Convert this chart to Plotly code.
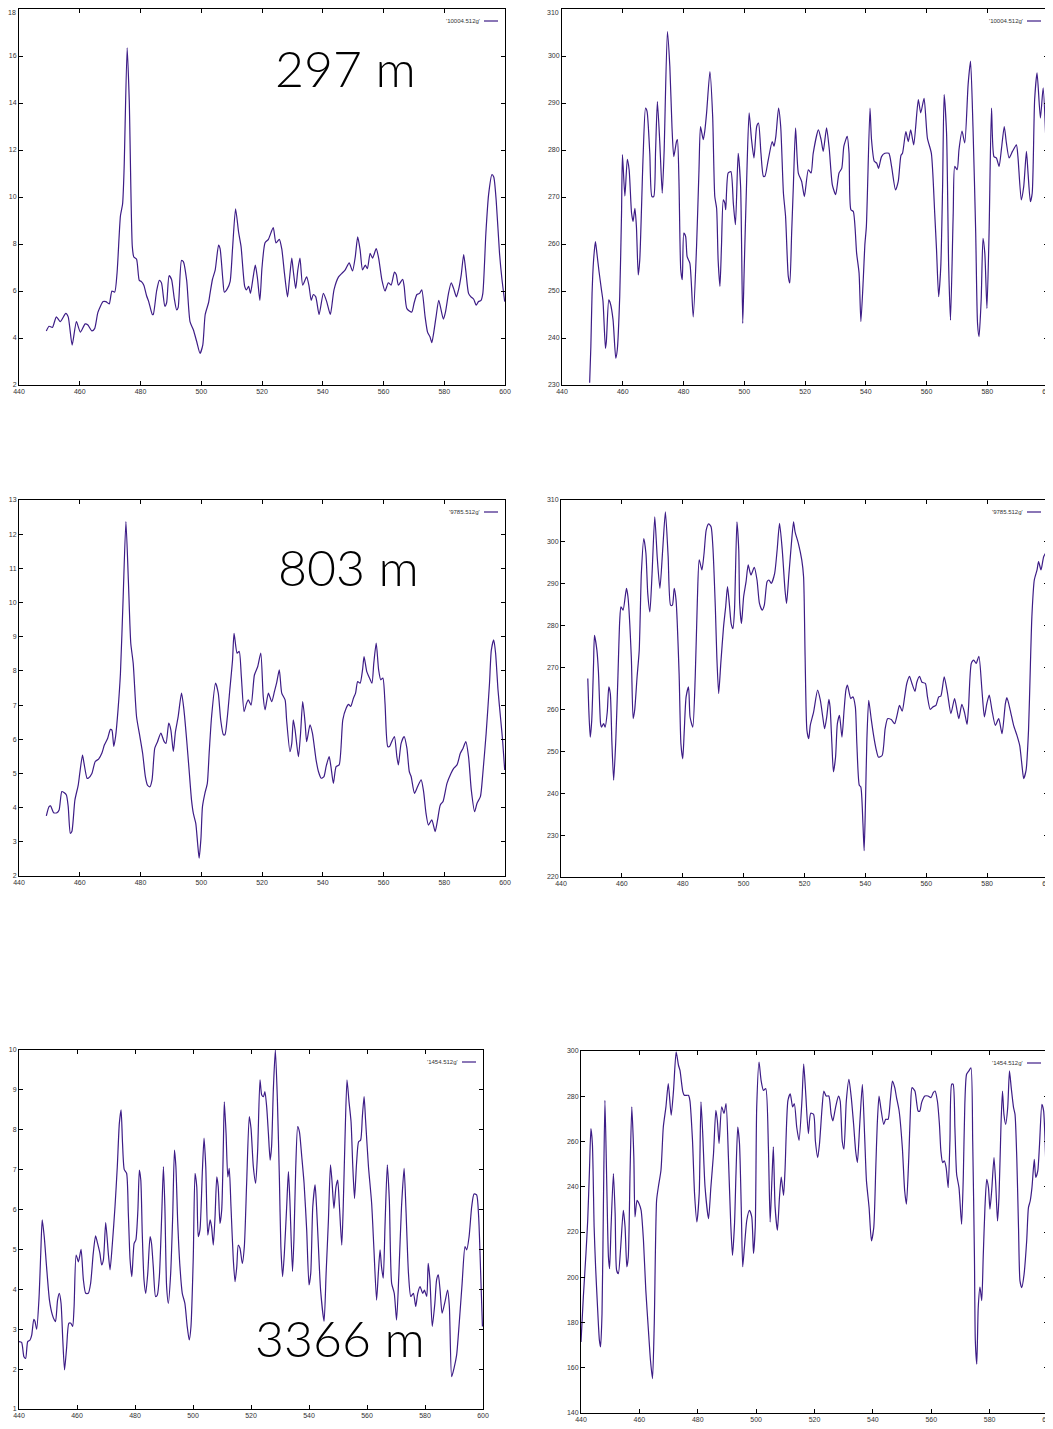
import plotly.graph_objects as go

W, H = 1053, 1429

# ---------------- data (wavelength, intensity) ----------------
spec_297_a = [(449,4.3),(449.9,4.5),(451,4.45),(452.3,4.9),(453.6,4.7),(455.4,5.05),(456.2,4.9),(457.5,3.7),
 (458.9,4.7),(460.2,4.25),(461.8,4.6),(462.7,4.55),(464,4.3),(464.9,4.4),(466,5.1),(467.7,5.55),(468.6,5.55),
 (469.7,5.45),(470.6,6.0),(471.5,5.95),(472.3,6.8),(473.4,9.2),(474.1,9.7),(474.6,11.2),(475.6,16.35),(476.3,14.1),
 (477.3,7.9),(477.8,7.45),(478.7,7.35),(479.6,6.45),(480.3,6.4),(481.1,6.25),(482,5.8),(482.7,5.55),(483.9,5.0),
 (484.2,5.0),(485.3,6.0),(486.2,6.45),(486.9,6.35),(488,5.35),(488.6,5.5),(489.4,6.65),(490.2,6.5),(491.1,5.7),
 (491.9,5.2),(492.4,5.3),(493.5,7.3),(494.1,7.25),(495.2,6.45),(496.3,4.7),(497.4,4.35),(498.5,3.85),(499.6,3.35),
 (500.5,3.7),(501.3,5.0),(502.4,5.5),(502.9,5.9),(503.7,6.5),(504.6,6.9),(505.7,7.95),(506.2,7.8),(507.1,6.5),
 (507.6,5.95),(508.6,6.1),(509.5,6.4),(510.3,7.8),(511.3,9.5),(512.3,8.5),(513.1,7.9),(514.3,6.2),(514.9,6.05),
 (515.6,6.2),(516.2,5.9),(517.1,6.6),(517.8,7.1),(518.5,6.55),(519.3,5.6),(520,7.0),(521,8.05),(522.1,8.2),
 (523.7,8.7),(524.6,8.05),(525.7,8.2),(526.5,7.8),(527.4,6.75),(528.4,5.75),(529,6.45),(529.8,7.4),(530.3,6.85),
 (531.1,6.1),(531.8,6.9),(532.5,7.4),(533.4,6.25),(534.7,6.6),(535.5,6.2),(536.2,5.6),(536.9,5.85),(537.7,5.75),
 (538.8,5.0),(540.2,5.9),(541.3,5.55),(542.5,5.0),(543.7,6.05),(545.2,6.6),(546.3,6.75),(547.4,6.9),(548.7,7.2),
 (549.8,6.85),(550.7,7.45),(551.5,8.3),(552.3,7.75),(553.1,6.9),(554,7.1),(554.7,6.95),(555.6,7.6),(556.4,7.4),
 (557.6,7.8),(558.4,7.4),(559.5,6.45),(560.5,6.0),(561.6,6.35),(562.5,6.25),(563.6,6.8),(564.2,6.7),(564.9,6.25),
 (566.3,6.5),(566.8,6.2),(567.7,5.25),(569.3,5.1),(570.1,5.5),(571,5.85),(571.9,5.9),(572.6,6.05),(573.7,4.9),
 (574.5,4.25),(575.3,4.05),(575.9,3.8),(576.5,4.2),(577.3,4.9),(578.2,5.6),(579.7,4.8),(580.4,5.1),(581.4,5.9),
 (582.3,6.35),(583.1,6.1),(584,5.75),(584.7,6.05),(585.6,6.7),(586.4,7.55),(587.1,6.85),(588,5.9),(588.8,5.75),
 (589.7,5.65),(590.5,5.4),(591.3,5.55),(592.1,5.6),(592.7,5.9),(593.7,8.45),(594.6,10.1),(595.7,10.95),
 (596.3,10.85),(597.1,9.85),(598.2,7.6),(599,6.5),(599.9,5.55)]

spec_297_b = [(449.1,230.5),(449.5,238.2),(449.9,249.5),(450.4,256.6),(451,260.5),(451.5,258),(452.2,254.1),
 (453,250.2),(453.5,247.8),(454.3,237.8),(454.6,239.2),(455.4,248.1),(455.9,247.4),(456.8,243.9),(457.7,235.7),
 (458.2,237.5),(459,248.8),(459.6,266.6),(459.9,279),(460.7,270.2),(461.5,278),(462.1,275.8),(462.9,266.6),
 (463.4,264.8),(464,267.6),(464.5,263.7),(465.1,253.4),(465.6,256.6),(466.7,278.6),(467.5,288.9),(468,288.2),
 (468.9,279.3),(469.6,270.1),(470.2,270.1),(470.8,279.7),(471.4,290.3),(472.2,281.5),(473,270.8),(473.6,279.3),
 (474.7,305.2),(475.5,297.8),(476.2,285),(476.8,278.6),(477.7,281.8),(478,282.2),(478.5,273.7),(479.1,254.5),
 (479.6,252.4),(480.1,262.3),(480.7,261.6),(481.2,257.3),(482.1,255.9),(483.2,244.5),(484.3,259.5),(485.1,275.8),
 (485.6,285),(486.5,282.2),(487,284),(487.6,287.9),(488.7,296.7),(489.6,287.2),(490.3,270.1),(490.9,267.6),
 (491.4,256.6),(492,251),(492.5,259.5),(493.1,269.4),(493.6,268.7),(493.9,267.3),(494.7,275.1),(495.6,275.4),
 (496.4,268.7),(497.1,264.1),(498,279.3),(498.8,272.2),(499.5,243.1),(500,255.1),(500.8,273.7),(501.6,287.9),
 (502.4,282.2),(503.2,278.3),(504.1,285),(504.7,285.7),(505.5,279.3),(506.3,274.4),(506.8,274.4),(507.9,277.9),
 (509.2,281.8),(509.8,280.8),(510.4,282.9),(511.3,288.9),(512,285),(512.9,270.8),(513.6,265.9),(514.5,253.1),
 (515,251.7),(515.6,262.3),(516.2,273),(516.9,284.7),(517.8,275.1),(518.9,273.3),(519.8,270.1),(521.1,275.8),
 (522,275.1),(522.7,279.3),(524.4,284.3),(525.3,282.2),(526,279.7),(527.1,284.7),(528,280.1),(529,272.6),
 (530.1,270.5),(531.2,275.1),(532.1,276.1),(532.8,280.8),(533.9,282.9),(534.5,279.3),(535.1,267.3),(535.9,266.9),
 (537,258),(537.8,253.8),(538.4,243.5),(539.2,252.7),(539.7,259.8),(540.2,263.7),(541.4,288.9),(541.9,282.2),
 (542.8,277.6),(543.6,277.2),(544.2,276.1),(545.2,278.6),(546.3,279.3),(547.6,279.3),(548.5,276.5),(549.8,271.5),
 (550.7,273.3),(551.6,278.9),(552.1,279.3),(553.2,283.9),(554,281.8),(554.8,284.3),(555.8,281.1),(557.3,290.7),
 (558.1,287.9),(559.2,291),(560.3,282.5),(561.6,279.3),(562.7,266.6),(563.3,258.8),(564,248.8),(564.7,255.2),
 (565.3,272.2),(565.8,291.8),(566.6,283.6),(567.3,255.2),(567.9,243.8),(568.8,266.6),(569.3,276.5),(570.1,275.8),
 (570.7,280.1),(571.7,284),(572.6,281.5),(573.7,293.9),(574.5,298.9),(575.3,285),(576.2,262.3),(576.8,243.1),
 (577.3,240.3),(578,248.1),(578.6,261.2),(579.2,258),(579.9,246.3),(580.6,262.3),(581.4,288.9),(582.2,278.6),
 (583,278.3),(583.9,276.5),(584.7,280.4),(585.6,285),(586.3,281.5),(587.2,278.3),(588.3,279.7),(589.6,281.1),
 (590.1,278.6),(591.2,269.4),(592,272.2),(592.9,279.7),(593.4,275.4),(594.2,269),(594.8,270.8),(595.6,290.7),
 (596.4,296.4),(597.5,286.8),(598.4,293.2),(599.2,283.6),(599.8,270.1)]

spec_803_a = [(449,3.76),(449.9,4.03),(450.4,4.05),(451.4,3.85),(452.5,3.85),(453.2,3.93),(454.1,4.47),
 (454.8,4.44),(455.6,4.37),(456.2,4.03),(456.9,3.25),(457.4,3.3),(458.4,4.22),(459.5,4.66),(460,5.0),(460.9,5.54),
 (461.4,5.3),(462.4,4.86),(462.8,4.86),(464,5.0),(465.1,5.35),(466.2,5.42),(467.3,5.6),(468.1,5.83),(469.2,6.03),
 (470.1,6.29),(470.6,6.27),(471.2,5.79),(471.8,6.08),(472.6,6.86),(473.4,7.93),(474.3,10.18),(475.2,12.37),
 (476,10.66),(476.8,8.81),(477.6,8.22),(478.7,6.66),(479.8,6.08),(480.7,5.59),(481.6,4.91),(482.3,4.66),
 (483.1,4.61),(483.8,4.81),(484.7,5.74),(485.6,5.93),(486.7,6.18),(487.8,5.93),(488.4,5.88),(489.3,6.47),(490,6.27),
 (490.8,5.64),(491.5,6.22),(492.4,6.66),(493.5,7.35),(494.3,6.86),(495.2,5.98),(496,5.1),(496.8,4.22),(497.4,3.83),
 (498.2,3.54),(498.8,2.96),(499.3,2.52),(499.9,3.1),(500.4,4.03),(501.2,4.42),(502,4.71),(502.6,5.59),(503.4,6.66),
 (504.7,7.64),(505.6,7.35),(506.4,6.57),(507.3,6.13),(507.8,6.13),(508.6,6.66),(509.4,7.44),(510.3,8.32),(510.8,9.1),
 (511.8,8.52),(512.5,8.57),(513.2,7.83),(514.1,6.81),(514.9,7.05),(515.5,7.15),(516.4,7.0),(517.5,7.88),(518.6,8.13),
 (519.6,8.52),(520.4,7.25),(521,6.86),(522.1,7.35),(523.2,7.1),(524.1,7.4),(524.8,7.64),(525.7,8.03),(526.5,7.35),
 (527.6,7.15),(528.1,6.57),(529.2,5.64),(529.8,5.88),(530.3,6.57),(530.9,6.27),(532,5.49),(532.7,6.18),(533.4,7.1),
 (534.2,6.47),(534.7,5.93),(535.8,6.42),(536.6,6.18),(537.8,5.4),(538.6,5.05),(539.5,4.86),(540.4,4.91),(541.1,5.2),
 (542.1,5.49),(542.7,5.2),(543.5,4.71),(544.4,5.2),(545.4,5.25),(546.6,6.57),(547.7,6.91),(548.5,7.02),(549.2,6.96),
 (550.1,7.2),(550.8,7.35),(551.5,7.69),(552.3,7.64),(553.1,8.03),(553.6,8.42),(554.5,7.98),(555.4,7.79),(556.2,7.64),
 (556.8,8.22),(557.6,8.81),(558.4,8.03),(559.1,7.74),(559.8,7.79),(560.5,7.05),(561.4,5.79),(562,5.79),(562.7,5.93),
 (563.6,6.08),(564.4,5.49),(564.9,5.25),(565.8,5.88),(566.8,6.08),(567.7,5.74),(568.5,5.05),(569.1,4.91),(570.2,4.42),
 (571.2,4.61),(572.4,4.81),(573.2,4.47),(574,3.83),(574.8,3.49),(575.9,3.64),(577,3.3),(577.8,3.64),(578.7,4.08),
 (579.6,4.18),(580.9,4.71),(582.2,5.0),(583.1,5.15),(584.2,5.25),(585.3,5.59),(586.2,5.74),(587.1,5.93),(588,5.49),
 (588.9,4.52),(590,3.88),(590.8,4.13),(591.9,4.32),(592.7,5.0),(593.8,6.18),(594.9,7.64),(595.5,8.61),(596.3,8.91),
 (596.9,8.52),(597.7,7.44),(598.5,6.66),(599.2,5.98),(599.9,5.1)]

spec_803_b = [(448.8,267.4),(449.1,260.6),(449.6,253.4),(450.1,257.4),(450.7,271),(451,277.7),(451.8,274.1),
 (452.3,269),(453,256.6),(453.3,255.8),(454,256.6),(454.5,255.8),(455.2,259.4),(455.7,265.4),(456.2,263.8),
 (456.7,252.6),(457.3,243.1),(458,252.6),(458.7,267.8),(459.3,281.3),(459.7,284.5),(460.4,283.7),(461.5,288.9),
 (462,286.9),(463.1,272.5),(463.7,257.8),(464.2,259.8),(465,267.8),(465.7,274.1),(466.4,292.5),(467.2,300.8),
 (467.9,297.3),(468.5,287.7),(469.2,283.3),(469.9,292.1),(470.8,306),(471.6,296.5),(472.5,288.9),(473.4,298),
 (474.3,307.2),(475.2,296.5),(476,284.9),(476.6,284.9),(477.2,288.9),(477.8,286.1),(478.8,268.6),(479.4,251.8),
 (480,248.2),(480.5,255),(481.1,263),(481.9,265.4),(482.4,258.2),(483.3,255.8),(484.1,267.8),(484.8,286.1),
 (485.4,295.7),(486.3,293.3),(487,297.3),(487.7,302.8),(488.5,304.3),(489.3,303.6),(489.9,298.8),(490.7,284.5),
 (491.2,272.5),(491.8,263.8),(492.5,271),(493.4,279.7),(494.1,284.5),(494.7,289.3),(495.4,284.5),(495.9,280.5),
 (496.5,279.3),(497,283.7),(497.8,304.8),(498.4,298),(498.7,285.3),(499.3,280.5),(500,286.9),(500.8,290.5),
 (501.5,294.5),(502.4,292.1),(503.5,293.9),(504.4,290.9),(505.2,285.3),(506.1,283.7),(506.8,284.9),(507.7,290.5),
 (508.3,290.9),(509.1,290.1),(510.2,292.5),(511,298),(511.8,304.4),(512.7,298),(513.6,288.5),(514.1,285.3),
 (514.9,292.5),(515.7,299.6),(516.4,304.8),(516.9,302.4),(518,299.6),(519.1,295.7),(519.7,291.6),(520.2,272.5),
 (520.8,255),(521.4,253),(521.9,256.2),(523,259.4),(524.3,264.6),(525.2,262.2),(526,258.2),(526.6,255.4),
 (527.3,258.2),(528,262.4),(528.4,260.6),(529,251.8),(529.5,245.1),(530.2,248.6),(530.8,256.6),(531.5,258.6),
 (532.3,253.4),(533,259.8),(533.6,264.6),(534.1,265.8),(535.2,262.6),(535.9,263),(536.7,260.6),(537.2,251.8),
 (538,241.9),(538.5,241.5),(539.2,232.7),(539.6,226.3),(540,236.7),(540.5,253),(541.1,262.2),(541.9,257.8),
 (542.7,253.8),(543.5,250.6),(544.3,248.6),(545.5,249),(546.5,255.4),(547.3,257.8),(548.5,257.6),(549.6,256.6),
 (550.4,258.6),(551.2,261),(552.1,259.6),(552.9,263),(553.6,266.2),(554.5,267.9),(555.3,266.2),(556.3,264.3),
 (556.9,266.5),(557.8,267.9),(558.6,266.5),(559.7,266.2),(560.4,263),(561.3,260),(562.2,260.6),(563.2,261),
 (564.1,263),(564.8,263.2),(565.9,267.8),(567,263.8),(568.1,259),(569.3,262.6),(570.1,259.8),(570.7,257.8),
 (571.7,261.2),(572.6,259.2),(573.4,256.4),(573.9,260.6),(574.8,271),(575.6,271.8),(576.4,271),(577.3,272.7),
 (578.3,264.6),(579.1,258.2),(579.9,261.4),(580.7,263.4),(581.6,259.8),(582.7,256.2),(583.8,257.8),(584.9,254.2),
 (586,261.4),(586.5,262.8),(587.6,259.8),(588.7,256.2),(589.8,253.8),(590.7,251.4),(591.5,246.3),(592,243.5),
 (592.8,245.5),(593.6,255),(594.2,270.2),(594.7,282.1),(595.5,290.9),(596.4,293.3),(596.9,295.3),(597.7,293.3),
 (598.6,296.5),(599.5,297.5),(599.9,297.5)]

spec_3366_a = [(440,2.69),(440.9,2.67),(441.7,2.31),(442.3,2.27),(443,2.69),(443.8,2.73),(444.4,2.86),(445.1,3.25),
 (445.5,3.2),(446.1,3.0),(446.9,3.78),(447.5,4.9),(448,5.74),(448.7,5.32),(449.5,4.57),(450.5,3.73),(451.5,3.36),
 (452.2,3.23),(452.6,3.19),(453.3,3.73),(453.9,3.9),(454.5,3.65),(455.1,2.73),(455.7,1.98),(456.4,2.52),(457.2,3.15),
 (457.9,3.15),(458.5,3.07),(459,3.57),(459.7,4.86),(460.5,4.69),(461.4,5.0),(462.2,4.24),(463,3.9),(463.9,3.9),
 (464.7,4.15),(465.6,4.9),(466.4,5.34),(467.1,5.15),(467.9,4.9),(468.5,4.61),(469.1,4.74),(469.9,5.67),(470.8,4.9),
 (471.4,4.49),(472.2,5.15),(473.1,6.07),(473.9,7.08),(474.6,8.16),(475.2,8.5),(475.7,7.66),(476.3,7.0),(477.1,6.91),
 (477.7,5.91),(478.3,4.74),(478.9,4.32),(479.7,5.15),(480.3,5.24),(481,5.99),(481.5,6.99),(482,6.74),(482.5,5.41),
 (483.1,4.24),(483.7,3.9),(484.4,4.4),(485.2,5.32),(485.7,5.15),(486.3,4.57),(487.1,3.82),(487.7,3.86),(488.4,4.32),
 (489.2,5.83),(489.8,7.08),(490.3,6.07),(490.9,4.07),(491.5,3.65),(492.3,4.4),(493,5.83),(493.6,7.49),(494.1,7.08),
 (494.7,5.74),(495.5,4.57),(496.3,3.9),(497.2,3.65),(498,3.07),(498.7,2.73),(499.3,3.07),(500.1,4.82),(500.7,6.91),
 (501.3,6.57),(501.8,5.32),(502.4,5.49),(503.2,6.91),(503.8,7.79),(504.4,7.08),(505.1,5.36),(505.9,5.74),(506.4,5.57),
 (507,5.11),(507.6,5.82),(508.2,6.82),(508.7,6.57),(509.3,5.65),(509.9,5.99),(510.5,7.74),(510.8,8.7),(511.4,7.91),
 (512,6.82),(512.5,7.03),(513.1,6.07),(513.9,4.74),(514.5,4.19),(515.1,4.57),(515.6,5.11),(516.2,5.03),(517,4.65),
 (517.7,5.07),(518.5,6.66),(519.4,8.33),(520,8.04),(520.8,7.08),(521.6,6.66),(522.3,7.49),(523.1,9.25),(523.7,8.87),
 (524.3,8.83),(524.8,8.96),(525.4,8.58),(526,7.91),(526.6,7.24),(527.1,7.58),(527.7,9.0),(528.4,10.0),(529.1,8.75),
 (529.8,6.74),(530.3,5.07),(530.9,4.32),(531.5,4.9),(532.3,6.07),(532.9,6.95),(533.4,6.24),(534.3,4.45),(534.8,5.24),
 (535.4,6.99),(536.1,8.08),(536.7,7.95),(537.5,7.33),(538.3,6.66),(539.2,5.49),(540,4.11),(540.6,4.4),(541.3,6.07),
 (542.1,6.62),(542.6,6.07),(543.2,5.15),(544,3.98),(545.2,3.2),(545.9,4.4),(546.7,5.74),(547.4,7.12),(547.9,6.74),
 (548.6,6.03),(549.3,6.57),(549.9,6.74),(550.5,6.07),(551.3,5.11),(551.8,6.07),(552.4,7.74),(553.1,9.25),(553.8,8.7),
 (554.5,8.2),(555.1,7.08),(555.7,6.28),(556.4,7.16),(557.1,7.7),(557.8,7.74),(558.4,8.33),(559,8.83),(559.5,8.25),
 (560.5,7.08),(561.6,6.16),(562.4,4.99),(563.3,3.73),(563.9,4.4),(564.5,4.99),(565,4.57),(565.6,4.28),(566.2,5.57),
 (567,7.12),(567.7,6.24),(568.5,4.15),(569.4,3.9),(570.2,3.23),(571,4.4),(571.9,6.07),(572.8,7.03),(573.4,6.07),
 (574.3,4.4),(575.1,3.82),(576,3.9),(576.8,3.57),(577.5,3.9),(578.3,4.07),(579.2,3.9),(579.8,3.98),(580.6,3.82),
 (581.1,4.65),(581.7,4.24),(582.5,3.07),(583.4,3.65),(584,4.24),(584.6,4.36),(585.2,3.98),(585.9,3.4),(586.9,3.69),
 (587.8,3.98),(588.4,3.57),(589.2,1.81),(590,2.02),(590.9,2.35),(591.8,3.15),(592.8,4.15),(593.8,5.07),(594.4,4.99),
 (595.2,5.32),(596.1,6.07),(596.9,6.39),(597.8,6.37),(598.5,5.82),(599.2,4.4),(599.8,3.07)]

spec_3366_b = [(440,171.4),(440.8,191.3),(441.7,210.5),(442.3,225.2),(442.9,247.3),(443.4,265.7),(443.9,259.1),
 (444.5,222.2),(445,204.6),(445.6,188.4),(446.3,172.2),(446.7,169.2),(447.2,184),(447.7,234.1),(448.2,278.2),
 (448.8,242.9),(449.4,209),(449.8,203.8),(450.3,222.2),(451.1,245.8),(451.7,228.1),(452.2,203.1),(452.8,201.6),
 (453.6,213.4),(454.5,229.6),(455.1,222.2),(455.7,204.6),(456.2,209),(456.8,245.8),(457.4,275.3),(458.1,253.2),
 (458.5,226.7),(459.2,234),(459.9,232.5),(460.6,229.6),(461.4,216.3),(462.2,194.3),(463.1,176.6),(463.8,163.3),
 (464.5,155.2),(465.1,179.5),(465.9,234),(466.5,239.9),(467.4,247.3),(468.2,266.4),(469.1,275.3),(469.9,285.6),
 (470.9,271.6),(471.7,282.6),(472.6,299.6),(473.4,293.7),(473.9,291.5),(474.9,281.9),(475.4,280.4),(476.8,280.4),
 (477.3,278.2),(478.2,260.5),(478.9,237),(479.7,224.4),(480.5,237),(481.1,277.5),(481.7,263.5),(482.5,239.9),
 (483.7,225.9),(484.5,239.9),(485.4,254.6),(486.2,273.8),(486.7,269.4),(487.3,259.1),(488.2,275.3),(489,272.4),
 (489.7,276.7),(490.5,253.2),(491.3,223.7),(491.9,209.7),(492.6,223.7),(493.1,245.8),(493.7,266.4),(494.3,259.1),
 (494.9,231.1),(495.4,204.6),(496,213.4),(496.8,225.2),(497.7,229.6),(498.5,226.7),(499.1,210.5),(499.7,222.2),
 (500.2,275.3),(501,295.1),(501.7,287),(502.5,282.6),(503.3,283.4),(504.2,257.6),(504.8,224.4),(505.4,242.8),
 (505.9,257.6),(506.5,231.1),(507.3,220.8),(508,235.5),(508.6,244.3),(509.4,236.2),(509.9,247.3),(510.9,278.2),
 (511.7,281.1),(512.5,275.3),(513.1,276.7),(513.9,266.4),(514.7,260.5),(515.7,278.2),(516.3,294.2),(517,281.1),
 (517.9,263.5),(518.7,272.5),(519.7,272),(520.3,260.2),(521.1,252.9),(521.7,258.8),(522.6,275),(523.2,282.3),
 (524,280.1),(524.9,280.1),(525.7,272),(526.3,269.1),(527.2,275),(528.2,280.1),(528.8,277.9),(529.5,260.2),
 (530.1,256.6),(530.9,277.9),(531.8,287.5),(532.6,279.4),(533.4,267.6),(534.1,255.8),(534.7,250.7),(535.5,267.6),
 (536.4,285.3),(537.2,261.7),(537.8,242.6),(538.7,230.8),(539.5,216.1),(540.3,221.9),(541,248.5),(541.5,267.6),
 (542.1,280.1),(542.7,275),(543.7,267.6),(544.4,269.8),(545.2,269.8),(546,278.6),(546.7,286.7),(547.5,283.8),
 (548.1,279.4),(549,273.5),(550.1,257.3),(550.9,238.1),(551.5,232.3),(552.3,252.9),(552.9,275),(553.4,283.8),
 (554.4,282.3),(555.5,273.5),(556.1,273.5),(556.7,277.2),(557.8,280.1),(558.9,280.1),(559.9,279.4),(560.7,281.6),
 (561.3,282.3),(562.1,277.9),(562.8,267.6),(563.3,255.8),(563.9,250.7),(564.5,251.4),(565.1,248.5),(565.8,239.6),
 (566.4,260.2),(567,285.3),(567.5,285.3),(568.1,266.1),(568.7,245.5),(569.5,239.6),(570.4,223.4),(571,245.5),
 (571.5,276.4),(572.1,289.7),(572.9,291.2),(573.6,292.6),(574.2,260.2),(574.8,208.7),(575.1,171.9),(575.6,161.6),
 (576.1,186.6),(576.7,195.6),(577.3,189.7),(577.8,208.7),(578.4,230.8),(579,243.3),(579.6,239.6),(580.1,230.1),
 (580.7,238.1),(581.5,252.9),(582.1,241.1),(582.7,224.9),(583.2,235.2),(583.9,267.6),(584.4,282.3),(584.9,272),
 (585.5,267.6),(586.2,275),(586.8,291.2),(587.4,283.8),(588.2,275),(588.7,272),(589.3,252.9),(589.9,221.9),
 (590.4,198.4),(591,195.4),(591.8,201.3),(592.7,216.1),(593.3,230.8),(593.9,233.7),(594.5,239.6),(595.3,252.1),
 (595.8,244.1),(596.5,247),(597.1,258.8),(597.9,276.4),(598.5,273.5),(599.3,248.5),(599.9,232.3)]

x_range = [440, 600]
x_dtick = 20
y_ranges = [[2, 18], [230, 310], [2, 13], [220, 310], [1, 10], [140, 300]]
y_dticks = [2, 10, 1, 10, 1, 20]
legend_labels = ["'10004.512g'", "'10004.512g'", "'9785.512g'", "'9785.512g'", "'1454.512g'", "'1454.512g'"]
depth_labels = ["297 m", "803 m", "3366 m"]
series = [spec_297_a, spec_297_b, spec_803_a, spec_803_b, spec_3366_a, spec_3366_b]

# ---------------- layout (pixel boxes of the plot areas, in screen pixels) ----------------
OFF = 8  # the page body adds an 8px margin around the figure
boxes = [(19, 505, 9, 385), (562, 1048, 9, 385),
         (19, 505, 500, 876), (561, 1048, 500, 877),
         (19, 483, 1050, 1409), (581, 1048, 1051, 1413)]
label_pos = [(345, 68), (348, 567), (340, 1338)]
TOP_ROW = {0, 1}  # top tick label of these panels would be clipped by the page edge

LINE = "#3d1c86"
TICKFONT = dict(family="Liberation Sans, Arial", size=7, color="#333333")
fig = go.Figure()
annotations = []
shapes = []

def px(xp):
    return (xp - OFF) / W

def py(yp):
    return 1 - (yp - OFF) / H

for i, (data, box) in enumerate(zip(series, boxes)):
    n = i + 1
    xs = [p[0] for p in data]
    ys = [p[1] for p in data]
    xa = "x" if n == 1 else f"x{n}"
    ya = "y" if n == 1 else f"y{n}"
    fig.add_trace(go.Scatter(x=xs, y=ys, mode="lines", xaxis=xa, yaxis=ya,
                             line=dict(color=LINE, width=1.2, shape="spline", smoothing=0.6),
                             showlegend=False, hoverinfo="skip"))
    l, r, t, b = box
    axcommon = dict(showline=True, linecolor="black", linewidth=1, mirror="ticks",
                    ticks="inside", ticklen=4, tickcolor="black", tickwidth=1,
                    showgrid=False, zeroline=False, automargin=False,
                    ticklabeloverflow="allow", tickfont=TICKFONT)
    fig.layout[f"xaxis{'' if n == 1 else n}"] = dict(
        domain=[px(l), px(r)], range=x_range, dtick=x_dtick, tick0=440,
        anchor=ya, **axcommon)
    y0, y1 = y_ranges[i]
    step = y_dticks[i]
    yvals = list(range(y0, y1 + 1, step))
    ytext = [str(v) for v in yvals]
    if i in TOP_ROW:
        ytext[-1] = ""
        annotations.append(dict(x=px(l - 2), y=py(OFF), xref="paper", yref="paper",
                                text=str(yvals[-1]), showarrow=False, xanchor="right",
                                yanchor="top", borderpad=0, font=TICKFONT))
    fig.layout[f"yaxis{'' if n == 1 else n}"] = dict(
        domain=[py(b), py(t)], range=y_ranges[i], tickmode="array",
        tickvals=yvals, ticktext=ytext, anchor=xa, **axcommon)
    # gnuplot-style key: label then a short sample line
    annotations.append(dict(x=px(r - 23), y=py(t + 12), xref="paper", yref="paper",
                            text=legend_labels[i], showarrow=False, xanchor="right", yanchor="middle",
                            font=dict(family="Liberation Sans, Arial", size=6, color="#333333")))
    shapes.append(dict(type="line", xref="paper", yref="paper",
                       x0=px(r - 21), x1=px(r - 7), y0=py(t + 12), y1=py(t + 12),
                       line=dict(color=LINE, width=1.2)))

for (cx, cy), txt in zip(label_pos, depth_labels):
    annotations.append(dict(x=px(cx), y=py(cy), xref="paper", yref="paper", text=txt,
                            showarrow=False, xanchor="center", yanchor="middle",
                            font=dict(family="Lato, Open Sans, sans-serif", size=50, color="black",
                                      weight=300)))

fig.update_layout(width=W, height=H, margin=dict(l=0, r=0, t=0, b=0, autoexpand=False),
                  paper_bgcolor="white", plot_bgcolor="white",
                  annotations=annotations, shapes=shapes, showlegend=False)

fig.write_html("out.html")
